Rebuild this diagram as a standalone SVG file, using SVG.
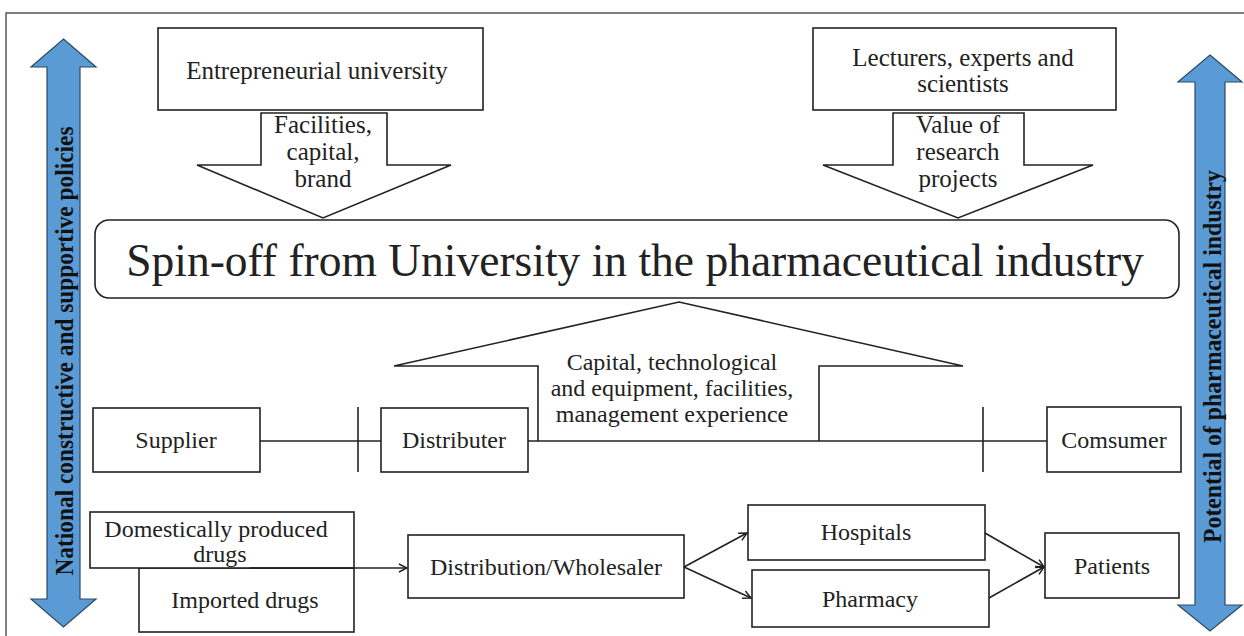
<svg xmlns="http://www.w3.org/2000/svg" width="1244" height="636" viewBox="0 0 1244 636">
<style>
.box{fill:#fff;stroke:#222;stroke-width:1.6}
.ln{fill:none;stroke:#222;stroke-width:1.6}
.t{font-family:"Liberation Serif","Times New Roman",serif;font-size:24px;fill:#222;text-anchor:middle}
.tl{font-size:25px}
.big{font-size:45.5px}
.vt{font-family:"Liberation Serif","Times New Roman",serif;font-weight:bold;fill:#111;text-anchor:middle}
.blue{fill:#5b9bd5;stroke:#2e4a66;stroke-width:1.2}
</style>
<defs>
<marker id="ah" viewBox="0 0 10 10" refX="9" refY="5" markerWidth="10" markerHeight="10" markerUnits="userSpaceOnUse" orient="auto">
<path d="M1,1 L9,5 L1,9" fill="none" stroke="#222" stroke-width="1.5"/>
</marker>
</defs>
<rect x="0" y="0" width="1244" height="636" fill="#fff"/>
<rect x="6" y="13" width="1260" height="660" fill="none" stroke="#555" stroke-width="1.5"/>

<g id="policies">
<polygon class="blue" points="63.5,39 96,67 80,67 80,599 96,599 63.5,627 31,599 47,599 47,67 31,67"/>
<text class="vt" font-size="24.5" textLength="449" lengthAdjust="spacingAndGlyphs" transform="translate(72.5,351) rotate(-90)">National constructive and supportive policies</text>
</g>
<g id="potential">
<polygon class="blue" points="1210,55 1242,82 1225,82 1225,605 1242,605 1210,631 1178,605 1195,605 1195,82 1178,82"/>
<text class="vt" font-size="25" textLength="373" lengthAdjust="spacingAndGlyphs" transform="translate(1221,356.5) rotate(-90)">Potential of pharmaceutical industry</text>
</g>

<g id="entrepreneurial-university">
<rect class="box" x="158" y="28" width="325" height="82"/>
<text class="t tl" x="317" y="79">Entrepreneurial university</text>
</g>
<g id="arrow-facilities">
<polygon class="box" points="261,113 387,113 387,165 451,165 323,218 197,165 261,165"/>
<text class="t tl" x="323" y="133">Facilities,</text>
<text class="t tl" x="323" y="160">capital,</text>
<text class="t tl" x="323" y="187">brand</text>
</g>
<g id="lecturers">
<rect class="box" x="813" y="28" width="303" height="82"/>
<text class="t tl" x="963" y="66">Lecturers, experts and</text>
<text class="t tl" x="963" y="92">scientists</text>
</g>
<g id="arrow-value">
<polygon class="box" points="893,113 1024,113 1024,165 1093,165 958,218 823,165 893,165"/>
<text class="t tl" x="958" y="133">Value of</text>
<text class="t tl" x="958" y="160">research</text>
<text class="t tl" x="958" y="187">projects</text>
</g>
<g id="spinoff">
<rect class="box" x="95" y="220" width="1084" height="78" rx="14" stroke-width="2"/>
<text class="t big" x="635" y="276">Spin-off from University in the pharmaceutical industry</text>
</g>
<g id="arrow-capital">
<polyline class="ln" points="538,441 538,366 394,366 679,302 963,366 819,366 819,441"/>
<text class="t" x="672" y="370">Capital, technological</text>
<text class="t" x="672" y="396">and equipment, facilities,</text>
<text class="t" x="672" y="422">management experience</text>
</g>
<g id="supplier">
<rect class="box" x="93" y="408" width="167" height="64"/>
<text class="t" x="176" y="448">Supplier</text>
</g>
<g id="distributer">
<rect class="box" x="381" y="408" width="147" height="64"/>
<text class="t" x="454" y="448">Distributer</text>
</g>
<g id="comsumer">
<rect class="box" x="1047" y="407" width="134" height="65"/>
<text class="t" x="1114" y="448">Comsumer</text>
</g>
<g id="imported">
<rect class="box" x="139" y="568" width="215" height="64"/>
<text class="t" x="245" y="608">Imported drugs</text>
</g>
<g id="domestic">
<rect class="box" x="90" y="512" width="264" height="56"/>
<text class="t" x="216" y="537">Domestically produced</text>
<text class="t" x="220" y="562">drugs</text>
</g>
<g id="distribution">
<rect class="box" x="408" y="535" width="276" height="63"/>
<text class="t" x="546" y="575">Distribution/Wholesaler</text>
</g>
<g id="hospitals">
<rect class="box" x="748" y="505" width="237" height="55"/>
<text class="t" x="866" y="540">Hospitals</text>
</g>
<g id="pharmacy">
<rect class="box" x="752" y="570" width="237" height="57"/>
<text class="t" x="870" y="607">Pharmacy</text>
</g>
<g id="patients">
<rect class="box" x="1045" y="533" width="134" height="65"/>
<text class="t" x="1112" y="574">Patients</text>
</g>

<g id="connectors">
<line class="ln" x1="260" y1="441" x2="381" y2="441"/>
<line class="ln" x1="358" y1="407" x2="358" y2="472"/>
<line class="ln" x1="528" y1="441" x2="1047" y2="441"/>
<line class="ln" x1="983" y1="407" x2="983" y2="472"/>
<line class="ln" x1="250" y1="568" x2="407" y2="568" marker-end="url(#ah)"/>
<line class="ln" x1="684" y1="567" x2="747" y2="533" marker-end="url(#ah)"/>
<line class="ln" x1="684" y1="567" x2="751" y2="598" marker-end="url(#ah)"/>
<line class="ln" x1="985" y1="533" x2="1044" y2="567" marker-end="url(#ah)"/>
<line class="ln" x1="989" y1="598" x2="1044" y2="567" marker-end="url(#ah)"/>
</g>
</svg>
